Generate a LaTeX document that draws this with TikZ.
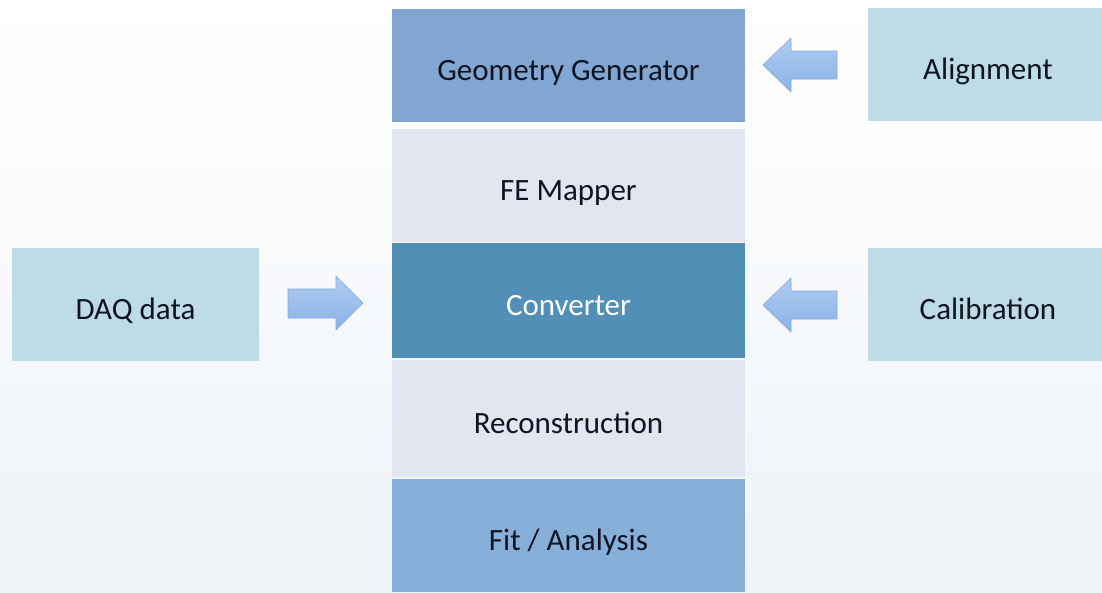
\documentclass[tikz,border=0pt]{standalone}
\usepackage{fontspec}
\setmainfont{Carlito}
\usetikzlibrary{positioning}
\definecolor{ggblue}{RGB}{128,166,209}
\definecolor{paleg}{RGB}{226,230,240}
\definecolor{convblue}{RGB}{82,143,182}
\definecolor{fitblue}{RGB}{134,176,217}
\definecolor{sidebox}{RGB}{190,220,230}
\definecolor{arrowtop}{RGB}{176,204,242}
\definecolor{arrowbot}{RGB}{138,178,230}
\definecolor{arrowedge}{RGB}{130,168,220}
\definecolor{txt}{RGB}{16,20,34}
\definecolor{bgblue}{RGB}{238,243,248}
\tikzset{
  blk/.style={rectangle, inner sep=0pt, font=\fontsize{31}{36}\selectfont, text=txt, text height=30pt, text depth=0pt},
  arrowfill/.style={top color=arrowtop, bottom color=arrowbot, draw=arrowedge, line width=0.6pt, line join=round}
}
\begin{document}
\begin{tikzpicture}[x=1pt,y=-1pt]
\useasboundingbox (0,0) rectangle (1102,592);
\shade[top color=white, bottom color=bgblue] (0,0) rectangle (1102,592);
% centre column
\node[blk, fill=ggblue, minimum width=353, minimum height=113] (gg) at (568.5,65.5) {Geometry Generator};
\node[blk, fill=paleg, minimum width=353, minimum height=113] (fe) at (568.5,185.5) {FE Mapper};
\node[blk, fill=convblue, minimum width=353, minimum height=115, text=white] (conv) at (568.5,300.5) {Converter};
\node[blk, fill=paleg, minimum width=353, minimum height=117] (rec) at (568.5,418.5) {Reconstruction};
\node[blk, fill=fitblue, minimum width=353, minimum height=113] (fit) at (568.5,535.5) {Fit / Analysis};
% side boxes
\node[blk, fill=sidebox, minimum width=247, minimum height=113] (daq) at (135.5,304.5) {DAQ data};
\node[blk, fill=sidebox, minimum width=240, minimum height=113] (align) at (988,64.5) {Alignment};
\node[blk, fill=sidebox, minimum width=240, minimum height=113] (calib) at (988,304.5) {Calibration};
% block arrows
\coordinate (a1) at (763,65);
\coordinate (a2) at (763,305);
\coordinate (a3) at (363,303);
\foreach \c in {a1,a2}{
  \path[arrowfill] (\c) -- ++(28,-27) -- ++(0,13) -- ++(46,0) -- ++(0,28) -- ++(-46,0) -- ++(0,13) -- cycle;
}
\path[arrowfill] (a3) -- ++(-27,-27) -- ++(0,13) -- ++(-48,0) -- ++(0,29) -- ++(48,0) -- ++(0,12) -- cycle;
\end{tikzpicture}
\end{document}
